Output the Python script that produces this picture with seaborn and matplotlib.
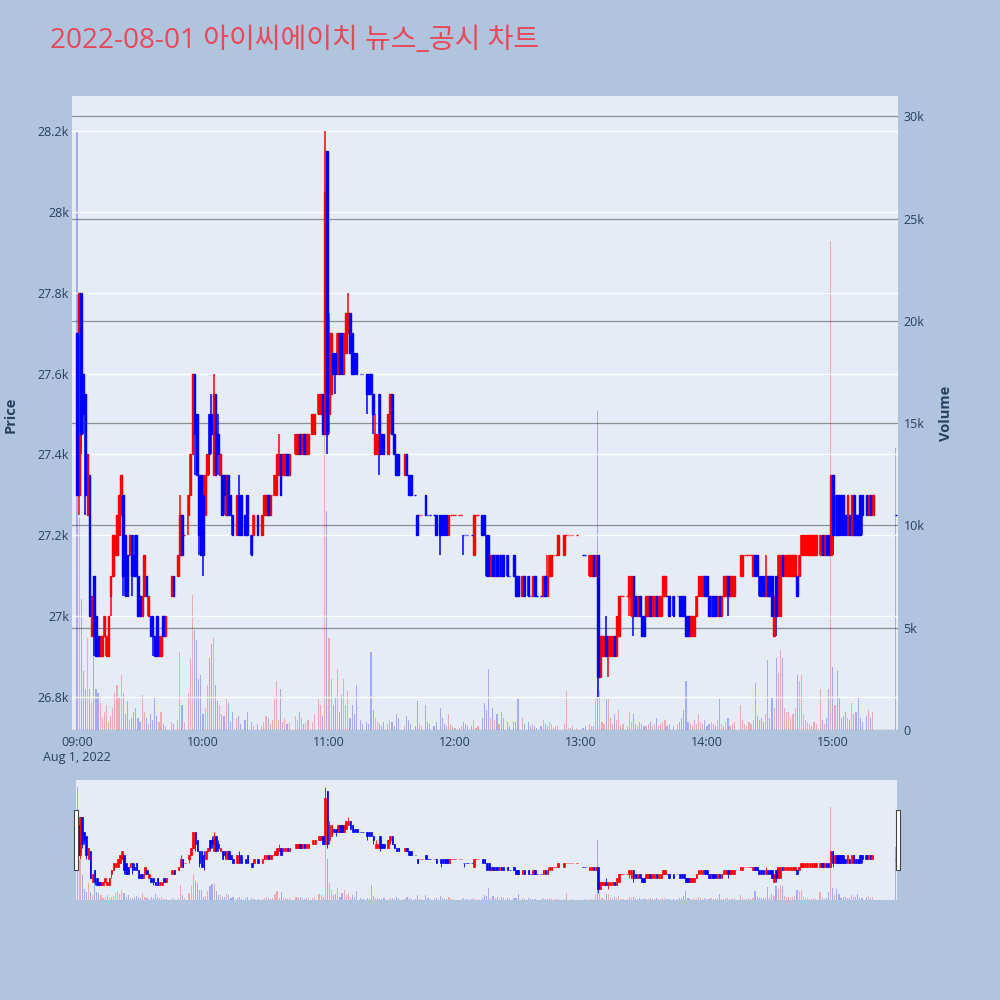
import numpy as np
import pandas as pd
import seaborn as sns
import matplotlib.pyplot as plt
from matplotlib.patches import Rectangle

sns.set_theme(style='white')
plt.rcParams['font.family'] = ['Open Sans', 'Noto Sans CJK KR', 'DejaVu Sans']

N = None
# minute candles, index 0 = 09:00 ... 390 = 15:30 (None = no trade)
open_ = [27700,27300,27800,27600,27550,27250,27350,26950,27100,27000,
    26950,26900,26900,26950,26900,26900,27050,27100,27150,27150,
    27200,27250,27300,27200,27150,27150,27200,27150,27200,27100,
    27050,27000,27050,27100,27000,27000,27000,26950,27000,26900,
    26900,27000,26950,N,N,27050,27100,N,27100,27150,
    27250,27200,N,27250,27300,27400,27600,27500,27350,27350,
    27300,27250,27350,27500,27500,27350,27550,27450,27350,27350,
    27350,27250,27350,27300,27250,N,27200,27300,27300,N,
    27250,27300,N,27200,27200,N,27250,N,27200,27250,
    27250,27300,27250,27300,27300,27300,27350,27400,27350,27350,
    27400,27350,N,N,27400,27400,27450,27400,27450,27400,
    27400,N,27450,27450,N,27500,27500,27550,27450,28150,
    27500,27550,27650,27650,27600,27700,27700,27600,27650,27700,
    27750,27700,27650,27650,N,27600,27600,N,27600,27600,
    27600,27550,27400,27400,27550,27450,27450,N,27400,27500,
    27550,27450,27400,27400,N,N,27350,27400,27350,27350,
    N,27300,27250,27250,27250,N,27300,27250,27250,N,
    27250,27250,N,27250,27250,27250,27250,27200,27250,27250,
    27250,N,27250,27250,27200,27200,27200,N,27200,27150,
    27250,27250,N,27250,27250,27200,27200,27100,27150,27100,
    27150,27100,27150,27150,N,27150,27100,N,27150,27100,
    27100,N,27050,27100,N,27100,27050,27050,27100,27050,
    N,27050,27050,27100,27050,27100,27100,27150,27150,27150,
    N,N,27150,27200,27200,27200,27200,N,27200,N,
    N,27150,27150,N,27100,27100,27150,27100,27150,26850,
    26900,26900,26950,26900,26900,26900,26950,26900,26950,27050,
    27050,N,27050,27050,27000,27100,27050,27000,27050,27000,
    27000,27000,27000,27050,27000,27000,27050,27000,27000,27050,
    27050,27050,27050,N,27050,N,27050,27050,27050,27050,
    27000,27000,26950,26950,26950,27000,27050,27050,27050,27100,
    27100,27050,27000,27050,27050,27000,27050,27000,27050,27050,
    27100,27050,27050,27050,N,N,27100,27100,27150,27150,
    27150,27150,27100,27150,27150,27100,27100,27100,27050,27100,
    27100,27100,26950,27100,27000,27000,27150,27100,27100,27100,
    27100,27100,27100,27100,27100,27150,27150,27150,27150,27150,
    27150,27150,27150,N,27150,27200,27150,27200,27200,27150,
    27350,27200,27300,27300,27300,27300,27250,27200,27250,27200,
    27300,27250,27250,27300,27300,N,27300,27250,27300,27250,
    N,N,N,N,N,N,N,N,N,N,
    27250]
high = [27700,27800,27800,27600,27550,27400,27350,27050,27100,27000,
    26950,26950,26950,27000,26950,27000,27100,27200,27200,27250,
    27300,27350,27300,27200,27150,27200,27200,27200,27200,27100,
    27050,27050,27150,27100,27050,27000,27000,26950,27000,26950,
    26950,27000,27000,N,N,27100,27100,N,27150,27300,
    27250,27200,N,27300,27400,27600,27600,27500,27350,27350,
    27350,27350,27400,27500,27550,27600,27550,27500,27400,27350,
    27350,27350,27350,27300,27250,N,27300,27350,27300,N,
    27250,27300,N,27200,27250,N,27250,N,27250,27300,
    27300,27300,27300,27300,27350,27400,27450,27400,27400,27400,
    27400,27400,N,N,27450,27450,27450,27450,27450,27450,
    27450,N,27500,27500,N,27550,27550,27550,28200,28150,
    27750,27700,27650,27650,27700,27700,27700,27700,27750,27800,
    27750,27700,27650,27650,N,27600,27600,N,27600,27600,
    27600,27550,27500,27450,27550,27450,27450,N,27500,27550,
    27550,27450,27400,27400,N,N,27400,27400,27350,27350,
    N,27300,27250,27250,27250,N,27300,27250,27250,N,
    27250,27250,N,27250,27250,27250,27250,27250,27250,27250,
    27250,N,27250,27250,27200,27200,27200,N,27200,27250,
    27250,27250,N,27250,27250,27200,27200,27150,27150,27150,
    27150,27150,27150,27150,N,27150,27100,N,27150,27100,
    27100,N,27100,27100,N,27100,27050,27100,27100,27050,
    N,27050,27100,27100,27150,27150,27150,27150,27150,27200,
    N,N,27200,27200,27200,27200,27200,N,27200,N,
    N,27150,27150,N,27150,27150,27150,27150,27150,26950,
    26950,26950,27000,26950,26950,26950,26950,27000,27050,27050,
    27050,N,27050,27100,27100,27100,27050,27050,27050,27000,
    27000,27050,27050,27050,27050,27050,27050,27050,27050,27100,
    27100,27050,27050,N,27050,N,27050,27050,27050,27050,
    27000,27000,27000,27000,27000,27050,27100,27100,27100,27100,
    27100,27050,27050,27050,27050,27050,27050,27050,27100,27100,
    27100,27100,27100,27100,N,N,27150,27150,27150,27150,
    27150,27150,27150,27150,27150,27100,27100,27100,27150,27100,
    27100,27100,27050,27100,27150,27150,27150,27150,27150,27150,
    27150,27150,27150,27100,27150,27200,27200,27200,27200,27200,
    27200,27200,27200,N,27200,27200,27200,27200,27200,27350,
    27350,27300,27300,27300,27300,27300,27250,27300,27250,27300,
    27300,27250,27250,27300,27300,N,27300,27300,27300,27300,
    N,N,N,N,N,N,N,N,N,N,
    27250]
low = [27300,27250,27400,27450,27250,27250,27000,26950,26900,26900,
    26900,26900,26900,26950,26900,26900,27000,27100,27150,27150,
    27200,27250,27050,27050,27050,27150,27050,27100,27100,27000,
    27000,27000,27050,27050,27000,26950,26900,26900,26900,26900,
    26900,26950,26950,N,N,27050,27050,N,27100,27150,
    27150,27200,N,27200,27300,27400,27350,27350,27150,27150,
    27100,27250,27350,27350,27400,27350,27350,27350,27350,27250,
    27250,27250,27250,27250,27200,N,27200,27200,27200,N,
    27200,27200,N,27150,27200,N,27200,N,27200,27250,
    27250,27250,27250,27300,27300,27300,27350,27300,27350,27350,
    27350,27350,N,N,27400,27400,27400,27400,27400,27400,
    27400,N,27450,27450,N,27500,27500,27450,27450,27400,
    27450,27550,27600,27550,27600,27600,27600,27600,27650,27700,
    27650,27600,27600,27600,N,27600,27600,N,27500,27550,
    27550,27450,27400,27400,27350,27400,27400,N,27400,27450,
    27450,27400,27350,27350,N,N,27350,27350,27300,27300,
    N,27300,27200,27250,27250,N,27250,27250,27250,N,
    27250,27200,N,27150,27200,27200,27200,27200,27250,27250,
    27250,N,27250,27250,27150,27200,27200,N,27200,27150,
    27250,27250,N,27200,27200,27100,27100,27100,27100,27100,
    27100,27100,27100,27100,N,27100,27100,N,27100,27050,
    27050,N,27050,27050,N,27050,27050,27050,27050,27050,
    N,27050,27050,27050,27050,27100,27100,27150,27150,27150,
    N,N,27150,27200,27200,27200,27200,N,27200,N,
    N,27150,27150,N,27100,27100,27100,27100,26800,26850,
    26900,26900,26900,26850,26900,26900,26900,26900,26950,27050,
    27050,N,27050,27000,27000,26950,27000,27000,27000,26950,
    26950,27000,27000,27000,27000,27000,27000,27000,27000,27050,
    27050,27050,27000,N,27000,N,27050,27000,27000,27000,
    26950,26950,26950,26950,26950,27000,27050,27050,27050,27050,
    27050,27000,27000,27000,27000,27000,27000,27000,27050,27050,
    27000,27050,27050,27050,N,N,27100,27100,27150,27150,
    27150,27150,27100,27100,27100,27050,27050,27050,27050,27050,
    27050,27000,26950,26950,27000,27000,27100,27100,27100,27100,
    27100,27100,27100,27050,27100,27150,27150,27150,27150,27150,
    27150,27150,27150,N,27150,27150,27150,27150,27150,27150,
    27150,27200,27200,27200,27200,27200,27200,27200,27200,27200,
    27200,27200,27200,27200,27200,N,27250,27250,27250,27250,
    N,N,N,N,N,N,N,N,N,N,
    27250]
close = [27300,27800,27450,27500,27300,27400,27000,27050,26950,26900,
    26900,26950,26950,27000,26950,27000,27100,27200,27200,27250,
    27300,27350,27100,27050,27050,27200,27100,27100,27100,27000,
    27000,27050,27150,27050,27050,26950,26950,26900,26900,26950,
    26950,26950,27000,N,N,27100,27050,N,27150,27250,
    27150,27200,N,27300,27400,27600,27450,27350,27200,27150,
    27150,27350,27400,27400,27450,27550,27350,27400,27400,27250,
    27300,27350,27250,27250,27200,N,27300,27200,27200,N,
    27200,27200,N,27150,27250,N,27200,N,27250,27300,
    27300,27250,27300,27300,27350,27400,27400,27300,27400,27400,
    27350,27400,N,N,27450,27450,27400,27450,27400,27450,
    27450,N,27500,27500,N,27550,27550,27450,28050,27450,
    27700,27700,27600,27600,27700,27600,27600,27700,27750,27750,
    27650,27600,27600,27600,N,27600,27600,N,27550,27550,
    27550,27500,27450,27450,27400,27400,27400,N,27500,27550,
    27450,27400,27350,27350,N,N,27400,27350,27300,27300,
    N,27300,27200,27250,27250,N,27250,27250,27250,N,
    27250,27200,N,27200,27200,27200,27200,27250,27250,27250,
    27250,N,27250,27250,27200,27200,27200,N,27200,27250,
    27250,27250,N,27200,27200,27100,27100,27150,27100,27150,
    27100,27150,27100,27100,N,27100,27100,N,27100,27050,
    27050,N,27100,27050,N,27050,27050,27100,27050,27050,
    N,27050,27100,27050,27100,27150,27150,27150,27150,27200,
    N,N,27200,27200,27200,27200,27200,N,27200,N,
    N,27150,27150,N,27150,27150,27100,27150,26850,26950,
    26950,26950,26900,26950,26950,26950,26900,27000,27050,27050,
    27050,N,27050,27100,27100,27000,27000,27050,27000,26950,
    26950,27050,27050,27000,27050,27050,27000,27050,27050,27100,
    27100,27050,27000,N,27000,N,27050,27000,27000,27000,
    26950,26950,27000,27000,27000,27050,27100,27100,27100,27050,
    27050,27000,27050,27000,27000,27050,27000,27050,27100,27100,
    27050,27100,27100,27100,N,N,27150,27150,27150,27150,
    27150,27150,27150,27100,27100,27050,27050,27050,27100,27050,
    27050,27000,27050,27000,27150,27150,27100,27150,27150,27150,
    27150,27150,27150,27050,27150,27200,27200,27200,27200,27200,
    27200,27200,27200,N,27200,27150,27200,27150,27150,27350,
    27200,27300,27200,27200,27200,27200,27200,27300,27200,27300,
    27200,27200,27200,27200,27250,N,27250,27300,27250,27300,
    N,N,N,N,N,N,N,N,N,N,
    27250]
volume = [29300,10400,6400,2900,2000,4500,2000,1300,4500,2000,
    1800,1300,600,900,1200,400,700,1100,1800,2200,
    1600,2700,1800,800,1400,500,600,900,1100,600,
    400,1700,900,600,300,800,500,1600,700,400,
    900,300,200,N,N,400,300,N,500,3800,
    1200,400,N,1800,3500,6600,4900,4400,2500,2700,
    800,1100,2200,3500,4200,4500,2200,1400,1200,800,
    700,1500,1300,400,900,N,600,700,300,N,
    500,900,N,400,200,N,300,N,200,400,
    700,600,300,500,1500,2400,500,2000,400,600,
    300,400,N,N,700,500,900,600,300,400,
    500,N,400,800,N,1500,1200,700,28500,10700,
    4500,2500,1200,1600,3000,900,1700,2500,1200,1900,
    600,1200,800,2200,N,500,300,N,400,300,
    3800,1000,600,400,300,200,400,N,300,500,
    400,200,800,600,N,N,200,700,500,300,
    N,200,1400,300,200,N,1200,400,300,N,
    200,400,N,1100,600,300,200,800,300,200,
    100,N,100,200,400,300,200,N,200,500,
    100,200,N,600,1300,1000,3000,600,1100,500,
    800,300,900,600,N,400,200,N,400,400,
    1500,N,600,300,N,400,200,300,200,100,
    N,200,500,300,200,400,300,100,200,200,
    N,N,300,1900,100,100,200,N,100,N,
    N,100,200,N,300,200,200,1500,15600,1900,
    400,300,1500,1500,600,300,800,500,1000,200,
    300,N,200,900,400,800,300,200,400,300,
    200,200,300,400,200,300,600,200,300,400,
    500,200,300,N,200,N,300,400,600,1000,
    2400,400,300,200,500,300,800,400,300,500,
    200,300,400,300,200,500,1500,300,200,400,
    600,200,300,400,N,N,1200,500,300,200,
    400,300,500,2300,700,500,600,400,800,3400,
    600,1600,1100,3500,2800,3900,3500,1100,900,900,
    600,800,1100,2700,2400,2700,800,500,400,300,
    200,400,300,N,2000,500,300,600,2000,23900,
    3100,1200,2900,1600,600,700,900,600,500,1300,
    800,900,1600,600,400,N,700,1000,600,900,
    N,N,N,N,N,N,N,N,N,N,
    13800]

time_ticks = [0, 60, 120, 180, 240, 300, 360]
time_labels = ['09:00\nAug 1, 2022', '10:00', '11:00', '12:00', '13:00', '14:00', '15:00']
price_ticks = [26800, 27000, 27200, 27400, 27600, 27800, 28000, 28200]
price_labels = ['26.8k', '27k', '27.2k', '27.4k', '27.6k', '27.8k', '28k', '28.2k']
vol_ticks = [0, 5000, 10000, 15000, 20000, 25000, 30000]
vol_labels = ['0', '5k', '10k', '15k', '20k', '25k', '30k']
title = '2022-08-01 아이씨에이치 뉴스_공시 차트'

df = pd.DataFrame({'m': np.arange(len(open_)), 'open': open_, 'high': high,
                   'low': low, 'close': close, 'volume': volume}).dropna()

# plotly style direction: equal open/close -> compare with previous close
dirs = []
prev_c, last = None, 'up'
for o, c in zip(df['open'], df['close']):
    if c > o:
        d = 'up'
    elif c < o:
        d = 'down'
    elif prev_c is not None and c > prev_c:
        d = 'up'
    elif prev_c is not None and c < prev_c:
        d = 'down'
    else:
        d = last
    dirs.append(d)
    last, prev_c = d, c
df['dir'] = dirs
df['lo'] = df[['open', 'close']].min(axis=1)
df['hi'] = df[['open', 'close']].max(axis=1)

UP, DOWN = '#FF0000', '#0000FF'
BG, PAPER, FONT = '#E5ECF6', '#B0C4DE', '#2a3f5f'


def draw(ax, axv, body_lw, wick_lw, vol_w, vol_a):
    sns.barplot(data=df, x='m', y='volume', hue='dir', palette={'up': UP, 'down': DOWN},
                native_scale=True, dodge=False, width=vol_w, errorbar=None, legend=False,
                saturation=1, alpha=vol_a, linewidth=0, ax=axv)
    for d, col in [('up', UP), ('down', DOWN)]:
        s = df[df['dir'] == d]
        ax.vlines(s['m'], s['low'], s['high'], color=col, lw=wick_lw, zorder=3)
        ax.bar(s['m'], s['hi'] - s['lo'], bottom=s['lo'], width=0.75, color=col,
               edgecolor=col, linewidth=body_lw, zorder=4)


fig = plt.figure(figsize=(10, 10), dpi=100)
fig.patch.set_facecolor(PAPER)

rect = [0.072, 0.27, 0.826, 0.634]
axv = fig.add_axes(rect)
ax = fig.add_axes(rect)
axv.set_facecolor(BG)
ax.patch.set_visible(False)
draw(ax, axv, 1.0, 1.1, 0.55, 0.28)

for a in (ax, axv):
    a.set_xlim(-2.4, 391)
    for sp in a.spines.values():
        sp.set_visible(False)
    a.set_xlabel('')
    a.set_ylabel('')
ax.set_ylim(26718, 28287)
axv.set_ylim(0, 31000)

ax.set_yticks(price_ticks, price_labels)
ax.set_xticks(time_ticks, time_labels)
ax.tick_params(axis='y', length=0, pad=2, labelsize=9, labelcolor=FONT)
ax.tick_params(axis='x', length=0, pad=4, labelsize=9, labelcolor=FONT)
ax.grid(axis='y', color='white', lw=1)
ax.set_axisbelow(True)

axv.yaxis.tick_right()
axv.set_yticks(vol_ticks, vol_labels)
axv.set_xticks([])
axv.tick_params(axis='y', length=0, pad=4, labelsize=9, labelcolor=FONT)
axv.grid(axis='y', color='#8f8f8f', lw=0.9)
axv.set_axisbelow(True)

fig.text(0.011, 0.585, 'Price', rotation=90, ha='center', va='center',
         fontsize=10.5, fontweight='bold', color=FONT)
fig.text(0.946, 0.587, 'Volume', rotation=90, ha='center', va='center',
         fontsize=10.5, fontweight='bold', color=FONT)
fig.text(0.05, 0.959, title, fontsize=20.2, color='#E8495A', ha='left', va='center')

# range slider
srect = [0.076, 0.10, 0.821, 0.12]
sv = fig.add_axes(srect)
sp_ax = fig.add_axes(srect)
sv.set_facecolor(BG)
sp_ax.patch.set_visible(False)
draw(sp_ax, sv, 0.5, 0.6, 0.55, 0.28)
for a in (sp_ax, sv):
    a.set_xlim(-0.9, 390.7)
    a.set_xticks([])
    a.set_yticks([])
    a.set_xlabel('')
    a.set_ylabel('')
    for s in a.spines.values():
        s.set_visible(False)
sp_ax.set_ylim(26708, 28292)
sv.set_ylim(0, 31000)

for x0 in (0.0735, 0.8955):
    fig.patches.append(Rectangle((x0, 0.13), 0.004, 0.06, transform=fig.transFigure,
                                 facecolor='white', edgecolor='#444444', lw=0.8))

fig.savefig('out.png', dpi=100, facecolor=PAPER)
